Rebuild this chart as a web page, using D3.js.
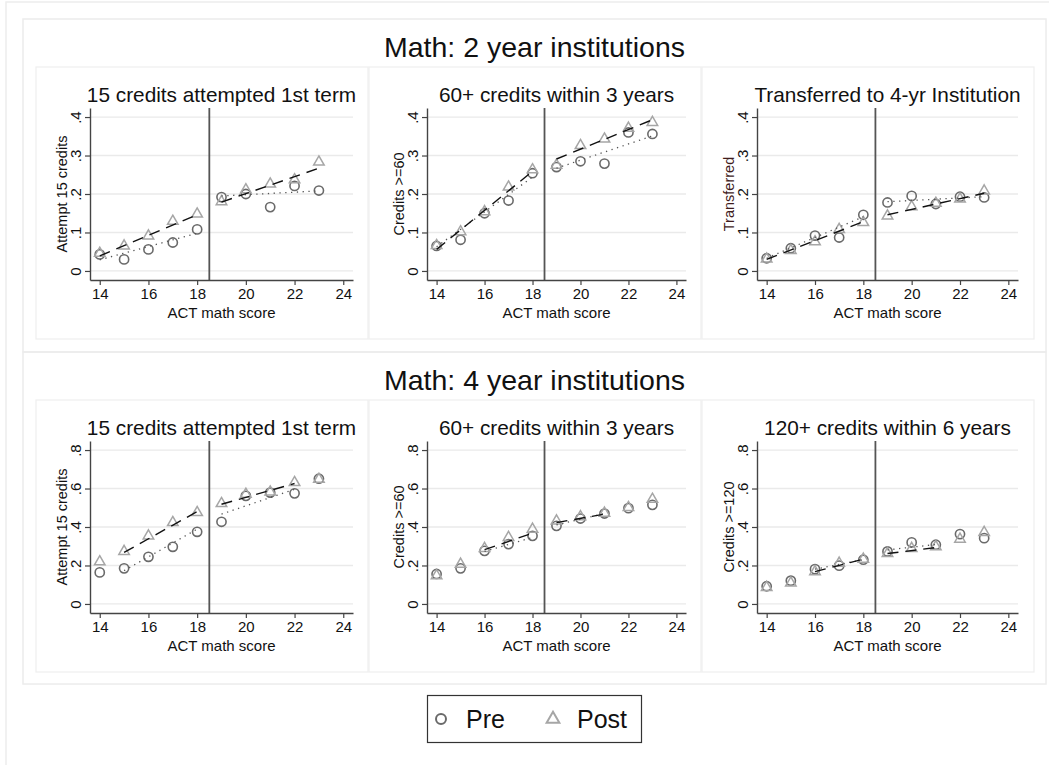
<!DOCTYPE html>
<html>
<head>
<meta charset="utf-8">
<script src="https://cdn.jsdelivr.net/npm/d3@7"></script>
<style>
  body { margin: 0; background: #fff; }
  svg { font-family: "Liberation Sans", Arial, sans-serif; }
</style>
</head>
<body>
<div id="wrapper"></div>
<script>
// ACT math scores on the x axis
const scores = [14, 15, 16, 17, 18, 19, 20, 21, 22, 23]
const xTicks = [14, 16, 18, 20, 22, 24]
const cutoff = 18.5

const sectionTitles = ["Math: 2 year institutions", "Math: 4 year institutions"]
const panelTitles = [
  ["15 credits attempted 1st term", "60+ credits within 3 years", "Transferred to 4-yr Institution"],
  ["15 credits attempted 1st term", "60+ credits within 3 years", "120+ credits within 6 years"]
]
const yTitles = [
  ["Attempt 15 credits", "Credits >=60", "Transferred"],
  ["Attempt 15 credits", "Credits >=60", "Credits >=120"]
]
const yTicks = [[0, 0.1, 0.2, 0.3, 0.4], [0, 0.2, 0.4, 0.6, 0.8]]
const yTickLabels = [["0", ".1", ".2", ".3", ".4"], ["0", ".2", ".4", ".6", ".8"]]

// 2 year institutions
const pre2yrAttempt = [0.043, 0.030, 0.056, 0.074, 0.108, 0.192, 0.200, 0.166, 0.221, 0.209]
const post2yrAttempt = [0.046, 0.065, 0.091, 0.129, 0.148, 0.180, 0.211, 0.226, 0.237, 0.283]
const pre2yrCredits60 = [0.065, 0.081, 0.150, 0.183, 0.254, 0.270, 0.285, 0.279, 0.360, 0.356]
const post2yrCredits60 = [0.066, 0.102, 0.154, 0.218, 0.263, 0.275, 0.326, 0.343, 0.371, 0.386]
const pre2yrTransfer = [0.033, 0.059, 0.092, 0.087, 0.146, 0.178, 0.195, 0.174, 0.193, 0.191]
const post2yrTransfer = [0.031, 0.053, 0.076, 0.108, 0.126, 0.143, 0.167, 0.176, 0.187, 0.208]

// 4 year institutions
const pre4yrAttempt = [0.164, 0.185, 0.245, 0.297, 0.375, 0.427, 0.562, 0.579, 0.575, 0.651]
const post4yrAttempt = [0.219, 0.273, 0.354, 0.423, 0.475, 0.522, 0.570, 0.582, 0.631, 0.648]
const pre4yrCredits60 = [0.156, 0.185, 0.276, 0.311, 0.354, 0.406, 0.444, 0.470, 0.498, 0.515]
const post4yrCredits60 = [0.147, 0.207, 0.289, 0.346, 0.389, 0.432, 0.454, 0.472, 0.501, 0.544]
const pre4yrCredits120 = [0.092, 0.121, 0.181, 0.199, 0.230, 0.273, 0.320, 0.308, 0.363, 0.342]
const post4yrCredits120 = [0.086, 0.109, 0.168, 0.212, 0.233, 0.262, 0.289, 0.298, 0.337, 0.372]

// fitted line segments [x0, y0, x1, y1], left and right of the cutoff
const preFit = [
  [[[14, 0.029, 18, 0.098], [19, 0.195, 23, 0.208]],
   [[14, 0.063, 18, 0.244], [19, 0.267, 23, 0.351]],
   [[14, 0.033, 18, 0.141], [19, 0.180, 23, 0.193]]],
  [[[15, 0.173, 18, 0.389], [19, 0.467, 22, 0.596]],
   [[16, 0.273, 18, 0.346], [19, 0.411, 21, 0.470]],
   [[16, 0.181, 18, 0.230], [19, 0.281, 21, 0.309]]]
]
const postFit = [
  [[[14, 0.039, 18, 0.146], [19, 0.179, 23, 0.267]],
   [[14, 0.056, 18, 0.259], [19, 0.291, 23, 0.393]],
   [[14, 0.030, 18, 0.128], [19, 0.146, 23, 0.202]]],
  [[[15, 0.268, 18, 0.480], [19, 0.518, 22, 0.626]],
   [[16, 0.282, 18, 0.368], [19, 0.423, 21, 0.467]],
   [[16, 0.168, 18, 0.233], [19, 0.262, 21, 0.293]]]
]

const preValues = [[pre2yrAttempt, pre2yrCredits60, pre2yrTransfer], [pre4yrAttempt, pre4yrCredits60, pre4yrCredits120]]
const postValues = [[post2yrAttempt, post2yrCredits60, post2yrTransfer], [post4yrAttempt, post4yrCredits60, post4yrCredits120]]

const dms = {
  width: 1049,
  height: 765,
  sectionTops: [19, 352],
  sectionLeft: 23,
  sectionRight: 1046,
  panelLefts: [36, 369, 702],
  panelWidth: 332,
  plotLefts: [90, 427, 757],
  plotRights: [353, 686, 1018],
}

const preColor = "#6a6a6a"
const postColor = "#a6a6a6"

const svg = d3.select("#wrapper")
  .append("svg")
  .attr("width", dms.width)
  .attr("height", dms.height)

svg.append("rect")
  .attr("x", 6).attr("y", 2)
  .attr("width", 1100).attr("height", 900)
  .attr("fill", "none")
  .attr("stroke", "#ededed")
  .attr("stroke-width", 1.5)

const trianglePath = d3.symbol().type(d3.symbolTriangle).size(48)

sectionTitles.forEach((title, s) => {
  const top = dms.sectionTops[s]
  const bottom = s === 0 ? dms.sectionTops[1] : 684

  svg.append("rect")
    .attr("x", dms.sectionLeft).attr("y", top)
    .attr("width", dms.sectionRight - dms.sectionLeft)
    .attr("height", bottom - top)
    .attr("fill", "none")
    .attr("stroke", "#ececec")
    .attr("stroke-width", 1.5)

  svg.append("text")
    .attr("x", (dms.sectionLeft + dms.sectionRight) / 2)
    .attr("y", top + 38)
    .attr("text-anchor", "middle")
    .attr("font-size", 28.5)
    .attr("fill", "#111")
    .text(title)

  const yScale = d3.scaleLinear()
    .domain(s === 0 ? [-0.0235, 0.4235] : [-0.047, 0.847])
    .range([top + 261, top + 89])

  panelTitles[s].forEach((pTitle, p) => {
    const pl = dms.plotLefts[p]
    const pr = dms.plotRights[p]

    svg.append("rect")
      .attr("x", dms.panelLefts[p]).attr("y", top + 48)
      .attr("width", dms.panelWidth)
      .attr("height", 272)
      .attr("fill", "none")
      .attr("stroke", "#efefef")
      .attr("stroke-width", 1.2)

    const xScale = d3.scaleLinear()
      .domain([13.6, 24.4])
      .range([pl, pr])

    const bounds = svg.append("g")

    // gridlines
    bounds.append("g")
      .selectAll("line")
      .data(yTicks[s])
      .join("line")
      .attr("x1", pl).attr("x2", pr)
      .attr("y1", d => yScale(d)).attr("y2", d => yScale(d))
      .attr("stroke", "#eaeaea")
      .attr("stroke-width", 1.3)

    svg.append("text")
      .attr("x", (pl + pr) / 2)
      .attr("y", top + 83)
      .attr("text-anchor", "middle")
      .attr("font-size", 20.8)
      .attr("fill", "#111")
      .text(pTitle)

    // scatter points
    bounds.append("g")
      .selectAll("circle")
      .data(preValues[s][p])
      .join("circle")
      .attr("cx", (d, i) => xScale(scores[i]))
      .attr("cy", d => yScale(d))
      .attr("r", 4.6)
      .attr("fill", "none")
      .attr("stroke", preColor)
      .attr("stroke-width", 1.6)

    bounds.append("g")
      .selectAll("path")
      .data(postValues[s][p])
      .join("path")
      .attr("d", trianglePath)
      .attr("transform", (d, i) => `translate(${xScale(scores[i])},${yScale(d)})`)
      .attr("fill", "none")
      .attr("stroke", postColor)
      .attr("stroke-width", 1.5)

    // fit lines
    bounds.append("g")
      .selectAll("line")
      .data(preFit[s][p])
      .join("line")
      .attr("x1", d => xScale(d[0])).attr("y1", d => yScale(d[1]))
      .attr("x2", d => xScale(d[2])).attr("y2", d => yScale(d[3]))
      .attr("stroke", "#555")
      .attr("stroke-width", 1.3)
      .attr("stroke-dasharray", "1.3 4.5")

    bounds.append("g")
      .selectAll("line")
      .data(postFit[s][p])
      .join("line")
      .attr("x1", d => xScale(d[0])).attr("y1", d => yScale(d[1]))
      .attr("x2", d => xScale(d[2])).attr("y2", d => yScale(d[3]))
      .attr("stroke", "#111")
      .attr("stroke-width", 1.4)
      .attr("stroke-dasharray", "11 7")

    // cutoff line
    bounds.append("line")
      .attr("x1", xScale(cutoff)).attr("x2", xScale(cutoff))
      .attr("y1", yScale.range()[1]).attr("y2", yScale.range()[0])
      .attr("stroke", "#555")
      .attr("stroke-width", 1.8)

    // axes
    const yAxis = bounds.append("g")
      .attr("transform", `translate(${pl},0)`)
      .call(d3.axisLeft(yScale)
        .tickValues(yTicks[s])
        .tickFormat((d, i) => yTickLabels[s][i])
        .tickSize(5)
        .tickSizeOuter(0))
    yAxis.selectAll("text")
      .attr("transform", "rotate(-90)")
      .attr("x", 0)
      .attr("y", -9)
      .attr("dy", 0)
      .attr("text-anchor", "middle")
      .attr("font-size", 15)
      .attr("font-family", "Liberation Sans, Arial, sans-serif")
      .attr("fill", "#111")

    const xAxis = bounds.append("g")
      .attr("transform", `translate(0,${top + 261})`)
      .call(d3.axisBottom(xScale)
        .tickValues(xTicks)
        .tickSize(5)
        .tickSizeOuter(0))
    xAxis.selectAll("text")
      .attr("y", 8)
      .attr("dy", "0.71em")
      .attr("font-size", 15)
      .attr("font-family", "Liberation Sans, Arial, sans-serif")
      .attr("fill", "#111")

    ;[yAxis, xAxis].forEach(ax => {
      ax.select(".domain").attr("stroke", "#444").attr("stroke-width", 1.4)
      ax.selectAll(".tick line").attr("stroke", "#444").attr("stroke-width", 1.2)
    })

    svg.append("text")
      .attr("x", (pl + pr) / 2)
      .attr("y", top + 299)
      .attr("text-anchor", "middle")
      .attr("font-size", 15)
      .attr("fill", "#111")
      .text("ACT math score")

    svg.append("text")
      .attr("transform", `translate(${pl - 23},${(yScale.range()[0] + yScale.range()[1]) / 2}) rotate(-90)`)
      .attr("text-anchor", "middle")
      .attr("font-size", 14.5)
      .attr("fill", s === 0 && p === 2 ? "#3f1c1c" : "#111")
      .text(yTitles[s][p])
  })
})

// legend
const legend = svg.append("g")
legend.append("rect")
  .attr("x", 427.5).attr("y", 695.5)
  .attr("width", 214).attr("height", 47)
  .attr("fill", "#fff")
  .attr("stroke", "#333")
  .attr("stroke-width", 1.2)
legend.append("circle")
  .attr("cx", 441).attr("cy", 719)
  .attr("r", 5)
  .attr("fill", "none")
  .attr("stroke", preColor)
  .attr("stroke-width", 2)
legend.append("text")
  .attr("x", 466).attr("y", 728)
  .attr("font-size", 25)
  .attr("fill", "#111")
  .text("Pre")
legend.append("path")
  .attr("d", d3.symbol().type(d3.symbolTriangle).size(70))
  .attr("transform", "translate(553,719)")
  .attr("fill", "none")
  .attr("stroke", postColor)
  .attr("stroke-width", 2)
legend.append("text")
  .attr("x", 577).attr("y", 728)
  .attr("font-size", 25)
  .attr("fill", "#111")
  .text("Post")
</script>
</body>
</html>
